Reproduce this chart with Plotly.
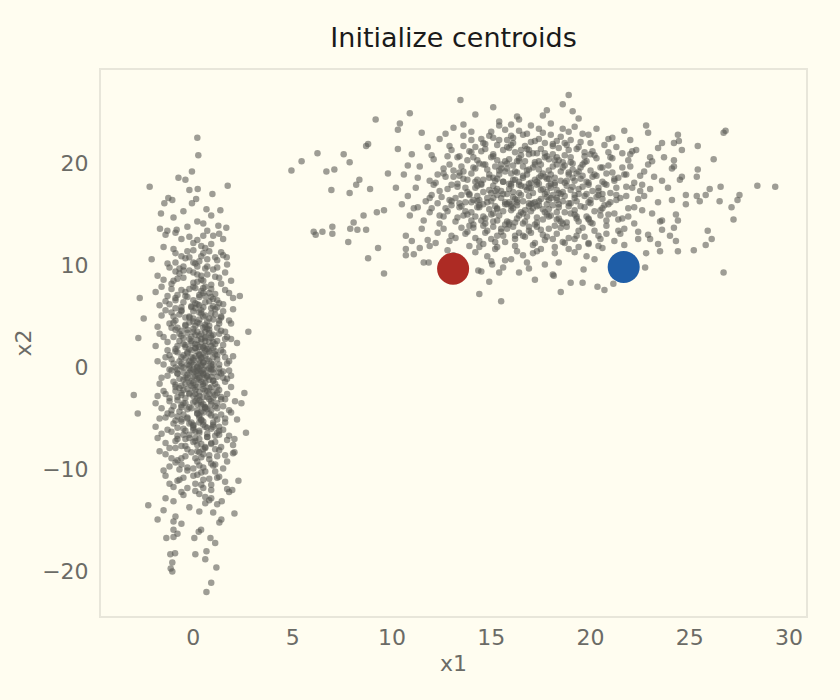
import plotly.graph_objects as go

# --- datos: nube izquierda (valores estimados del gráfico) ---
left_core = [
    (0.3,0.4),(-0.5,1.2),(0.9,0.1),(1.4,1.7),(-1.1,0.8),(0.1,1.9),(0.6,1.1),(-0.2,0.2),(1.8,0.6),(-0.8,1.5),
    (0.4,0.9),(1.1,1.3),(-1.5,0.3),(0.0,0.7),(0.7,1.8),(-0.3,1.4),(1.3,0.3),(0.2,1.6),(-0.9,0.0),(0.5,0.5),
    (2.0,1.1),(-0.1,1.0),(0.8,0.6),(-0.6,0.4),(1.0,1.9),(0.3,1.2),(-1.3,1.7),(0.6,0.2),
    (0.2,-0.3),(-0.7,-1.1),(1.0,-0.5),(0.5,-1.8),(-1.2,-0.2),(1.6,-1.4),(0.0,-0.9),(-0.4,-1.6),(0.8,-1.2),(1.3,-0.1),
    (-0.9,-1.9),(0.4,-0.6),(-0.1,-1.3),(1.9,-0.8),(0.6,-1.5),(-1.6,-1.0),(0.9,-0.2),(0.1,-1.7),(-0.5,-0.5),(1.2,-1.9),
    (0.3,-1.0),(-0.2,-0.1),(0.7,-0.8),(-1.0,-1.4),(1.5,-0.4),(0.0,-1.5),(0.5,-0.2),(-0.3,-0.7),
    (0.1,2.3),(-0.6,3.1),(1.2,2.6),(0.7,3.8),(-1.3,2.5),(0.4,3.3),(1.7,3.0),(-0.2,2.8),(0.9,2.1),(-0.9,3.7),
    (0.3,2.0),(1.4,3.6),(-0.4,2.2),(0.6,2.9),(2.2,2.4),(-1.7,3.3),(0.0,3.5),(1.0,3.2),(-0.7,2.6),(0.5,3.9),
    (1.5,2.2),(-0.1,3.0),(0.8,2.5),(-1.1,3.9),(0.2,2.7),
    (0.3,-2.4),(-0.8,-3.2),(1.1,-2.7),(0.6,-3.9),(-1.4,-2.6),(0.0,-3.4),(1.6,-3.1),(-0.3,-2.1),(0.9,-3.6),(-1.0,-3.8),
    (0.5,-2.9),(1.3,-2.2),(-0.5,-3.5),(0.2,-3.0),(2.1,-3.3),(-1.8,-2.8),(0.7,-2.3),(-0.2,-3.9),(1.0,-3.0),(-0.6,-2.5),
    (0.4,-3.7),(1.5,-3.8),(-1.2,-3.3),(0.1,-2.6),(0.8,-2.0),
    (0.2,4.4),(-0.7,5.2),(1.0,4.7),(0.5,5.9),(-1.2,4.3),(1.5,5.5),(-0.2,5.0),(0.8,4.1),(-0.9,5.8),(0.3,5.4),
    (1.8,4.6),(-1.6,5.1),(0.0,4.8),(1.2,5.9),(-0.4,4.2),(0.6,5.1),(2.0,5.7),(-0.6,5.6),(0.9,5.3),(-0.1,5.9),(1.3,4.3),
    (0.4,-4.3),(-0.6,-5.1),(1.1,-4.8),(0.0,-5.7),(-1.3,-4.5),(1.6,-5.4),(-0.3,-4.1),(0.7,-5.9),(-1.0,-5.5),(0.3,-4.9),
    (1.9,-4.4),(-1.7,-5.0),(0.5,-5.3),(1.3,-5.8),(-0.5,-4.6),(0.9,-4.2),(-0.1,-5.4),(2.2,-5.1),(-0.8,-5.9),(0.2,-4.5),(1.0,-5.6),
    (0.1,6.3),(-0.8,7.1),(1.2,6.6),(0.5,7.8),(-1.4,6.5),(0.8,7.3),(-0.3,6.9),(1.6,7.6),(0.3,6.1),(-1.1,7.7),
    (1.0,6.0),(-0.5,6.4),(2.0,6.8),(0.6,7.0),(-1.9,7.4),(0.0,7.9),
    (0.3,-6.4),(-0.9,-7.2),(1.1,-6.7),(0.6,-7.8),(-1.3,-6.1),(0.9,-7.4),(-0.2,-6.9),(1.7,-7.1),(0.2,-7.6),(-1.2,-7.9),
    (1.3,-6.2),(-0.5,-6.6),(2.0,-7.6),(0.7,-6.8),(-1.8,-6.9),(0.0,-7.3),
    (0.2,8.4),(-0.7,9.2),(1.3,8.8),(0.6,9.7),(-1.5,8.6),(0.9,8.1),(-0.2,9.5),(1.6,9.3),(-1.1,8.2),(0.4,9.0),(1.9,8.5),(-0.5,9.9),
    (0.3,-8.3),(-0.8,-9.1),(1.2,-8.7),(0.5,-9.8),(-1.4,-8.5),(0.9,-9.4),(-0.3,-8.0),(1.7,-9.2),(-1.2,-9.7),(0.1,-8.9),(2.0,-8.4),(-0.6,-9.5),
    (0.3,10.4),(-0.9,11.2),(1.1,10.8),(0.6,11.7),(-1.3,10.2),(0.0,11.5),(1.5,11.0),(-0.4,10.7),
    (0.4,-10.3),(-0.8,-11.1),(1.2,-10.8),(0.5,-11.8),(-1.4,-10.6),(0.1,-11.4),(1.6,-11.2),(-0.3,-10.1),
    (0.2,12.5),(-0.9,13.2),(1.0,12.9),(-0.3,13.8),(0.7,13.4),
    (0.3,-12.4),(-1.0,-13.1),(0.9,-12.8),(-0.2,-13.7),(0.6,-13.3),
]
left_dense = [
    (0.0,0.3),(0.5,1.4),(-0.4,0.9),(1.2,0.8),(0.2,0.0),(-0.9,1.6),(0.8,1.5),(0.4,0.2),(-0.2,1.8),(1.6,1.0),
    (-0.6,0.1),(0.1,1.1),(0.9,0.4),(-1.2,1.2),(0.6,1.7),(0.3,0.7),(-0.1,0.5),(1.0,1.0),(-0.7,0.6),(0.5,1.9),
    (0.1,-0.4),(0.6,-1.0),(-0.5,-1.2),(1.1,-1.6),(0.3,-0.1),(-0.8,-0.6),(0.9,-0.9),(-0.1,-1.8),(0.4,-1.4),(1.4,-0.6),
    (-1.1,-0.3),(0.2,-1.1),(0.7,-0.3),(-0.3,-1.0),(1.0,-1.3),(0.0,-0.2),(-0.6,-1.8),(0.5,-0.7),(1.7,-1.1),(-0.2,-0.5),
    (0.2,2.2),(-0.3,3.4),(0.9,2.9),(0.4,2.5),(-0.8,2.1),(1.3,3.3),(0.0,3.8),(0.6,3.5),(-0.5,2.9),(1.1,2.3),
    (0.3,3.1),(-1.0,3.0),(0.8,3.7),(-0.1,2.4),(1.6,2.8),(0.5,2.0),(-0.6,3.6),(0.1,3.2),
    (0.1,-2.2),(-0.4,-3.0),(0.8,-2.6),(0.4,-3.4),(-0.9,-2.3),(1.2,-3.5),(0.0,-2.8),(0.6,-3.9),(-0.6,-3.7),(1.0,-2.4),
    (0.3,-3.2),(-1.2,-3.0),(0.9,-3.3),(-0.2,-2.5),(1.4,-2.9),(0.5,-2.1),(-0.7,-2.0),(0.2,-3.6),
    (0.1,4.1),(-0.4,4.9),(0.7,4.5),(0.4,5.6),(-0.9,4.6),(1.1,5.2),(0.0,5.5),(0.6,4.2),(-0.6,5.9),(0.9,5.8),
    (0.3,4.7),(-1.1,5.4),(1.4,4.9),(-0.2,4.4),(0.5,5.0),
    (0.2,-4.2),(-0.3,-5.0),(0.8,-4.5),(0.5,-5.6),(-0.8,-4.8),(1.2,-5.1),(0.0,-5.9),(0.6,-4.0),(-0.6,-5.3),(1.0,-5.8),
    (0.3,-4.7),(-1.1,-4.2),(1.4,-4.6),(-0.2,-5.5),(0.4,-5.2),
    (0.2,6.2),(-0.4,7.0),(0.8,6.5),(0.4,7.5),(-0.9,6.8),(1.1,7.2),(0.0,6.6),(0.6,7.9),(-0.6,7.6),(1.3,6.3),(0.3,7.1),(-1.2,6.2),
    (0.1,-6.3),(-0.4,-7.0),(0.7,-6.5),(0.4,-7.5),(-0.8,-6.7),(1.1,-7.3),(0.0,-6.1),(0.6,-7.9),(-0.6,-7.7),(1.3,-6.6),(0.3,-7.0),(-1.1,-6.3),
    (0.0,8.3),(0.7,9.1),(-0.5,8.8),(1.0,9.6),(0.4,8.6),(-0.9,9.4),(0.2,9.9),(1.4,8.2),
    (0.2,-8.2),(0.8,-9.0),(-0.4,-8.7),(1.0,-9.6),(0.5,-8.5),(-0.9,-9.3),(0.0,-9.9),(1.3,-8.1),
    (0.1,10.2),(0.8,11.4),(-0.6,10.9),(0.4,11.9),(-1.0,11.6),(1.2,10.5),
    (0.2,-10.5),(0.9,-11.5),(-0.5,-10.8),(0.5,-11.0),(-1.0,-11.7),(1.1,-10.2),
    (0.0,12.2),(0.5,12.9),(-0.6,12.6),(1.3,13.1),
    (0.1,-12.1),(0.6,-12.7),(-0.5,-12.5),(1.2,-13.4),
]
left_center = [
    (-0.8,8.7),(0.5,8.5),(0.1,7.8),(-0.4,7.4),(0.9,7.7),(0.3,6.9),(-0.9,6.6),(0.6,6.4),(-0.1,6.0),(1.1,5.7),
    (-0.6,5.5),(0.4,5.3),(-0.2,4.9),(0.8,4.8),(0.0,4.5),(-1.0,4.4),(0.6,4.0),(1.2,3.9),(-0.3,3.7),(0.2,3.5),
    (-0.7,3.3),(0.9,3.1),(0.4,2.8),(-0.1,2.6),(1.0,2.5),(-0.5,2.3),(0.6,2.1),(0.1,1.9),(-0.9,1.8),(0.8,1.6),
    (-0.3,1.5),(0.3,1.3),(1.2,1.2),(-0.6,1.0),(0.0,0.9),(0.7,0.8),(-0.2,0.6),(0.5,0.5),(-1.0,0.4),(1.0,0.3),
    (0.2,0.1),(-0.5,0.0),(0.8,-0.1),(-0.1,-0.3),(0.4,-0.4),(1.3,-0.5),(-0.8,-0.6),(0.1,-0.8),(0.7,-0.9),(-0.4,-1.0),
    (0.3,-1.2),(1.0,-1.3),(-0.2,-1.5),(0.5,-1.6),(-0.9,-1.7),(0.9,-1.9),(0.0,-2.0),(-0.5,-2.2),(0.6,-2.3),(1.2,-2.5),
    (-0.2,-2.6),(0.3,-2.8),(-0.8,-2.9),(0.8,-3.1),(0.1,-3.3),(-0.4,-3.5),(0.5,-3.6),(1.1,-3.8),(-0.1,-4.0),(0.7,-4.1),
    (-0.7,-4.3),(0.2,-4.5),(0.9,-4.7),(-0.3,-4.9),(0.4,-5.1),(-0.9,-5.2),(1.0,-5.4),(0.0,-5.6),(0.6,-5.8),(-0.5,-6.0),
    (0.3,-6.2),(1.2,-6.4),(-0.2,-6.6),(0.7,-6.8),(-0.8,-7.0),(0.1,-7.2),(0.9,-7.5),(-0.4,-7.7),(0.5,-8.0),(-0.1,-8.3),
    (0.8,-8.6),(-0.6,-8.9),(0.2,-9.2),(1.1,-9.5),(-0.3,-9.8),(0.6,-10.2),(0.0,-10.6),(-0.7,-11.0),(0.4,-11.5),(0.9,-12.0),
    (0.2,9.1),(-0.5,9.5),(0.7,9.9),(0.0,10.3),(-0.2,10.8),(0.5,11.2),(1.0,-0.2),(-0.3,0.3),(0.4,1.0),(0.6,2.6),
    (-0.4,4.1),(0.1,5.8),(0.9,6.9),(-0.6,-3.9),(0.3,-5.4),(0.1,-6.9),(0.5,-0.6),(-0.1,1.7),(0.8,3.4),(0.2,-1.9),
]
left_spread = [
    (-1.5,11.8),(1.4,11.3),(-0.2,12.8),(0.9,12.1),(-1.2,9.8),(1.7,10.1),(-1.8,9.0),(1.1,8.9),(-0.9,10.3),(0.4,10.9),
    (-1.6,7.9),(1.8,7.3),(-1.3,7.0),(1.5,6.2),(-1.7,6.1),(1.4,5.0),(-1.4,5.6),(1.9,4.3),(-1.8,4.0),(1.6,3.5),
    (-1.5,3.0),(1.9,2.8),(-1.9,2.1),(1.5,1.5),(-1.4,1.0),(1.7,0.4),(-1.8,0.6),(1.8,-0.3),(-1.3,-0.8),(1.5,-1.0),
    (-1.7,-1.6),(1.9,-1.9),(-1.5,-2.3),(1.7,-2.6),(-1.9,-3.5),(1.4,-3.1),(-1.6,-4.0),(1.8,-4.2),(-1.4,-4.9),(1.6,-5.0),
    (-1.9,-5.8),(1.5,-6.1),(-1.6,-6.5),(1.8,-6.7),(-1.4,-7.4),(1.4,-7.8),(-1.7,-8.2),(1.6,-8.6),(-1.1,-8.9),(1.5,-9.9),
    (-1.5,-10.1),(1.3,-10.7),(-1.2,-11.4),(1.7,-11.9),(-0.6,-12.2),(0.8,-13.0),(-1.4,-12.8),(0.3,-14.1),(-0.9,-14.6),(1.0,-14.2),
    (0.2,14.3),(-1.0,14.7),(0.9,14.9),(-0.5,15.3),(0.5,14.1),(-1.4,13.0),(1.5,12.6),(-0.3,11.4),(0.7,10.6),(-0.7,9.7),
    (0.0,9.3),(1.2,9.8),(-1.0,8.5),(0.5,7.3),(-0.2,7.7),(1.0,6.7),(-1.0,5.0),(0.3,4.3),(1.3,4.6),(-0.8,3.9),
    (0.6,3.0),(-0.4,2.0),(1.1,1.6),(-0.8,-0.2),(0.2,-0.6),(1.2,-0.9),(-0.6,-2.7),(0.7,-2.9),(-1.1,-4.6),(0.5,-4.4),
    (1.2,-4.0),(-0.4,-6.2),(0.9,-6.0),(-0.9,-7.9),(0.4,-8.8),(1.1,-8.0),(-0.7,-10.0),(0.3,-9.6),(0.8,-10.9),(-0.3,-11.8),
]
left_outliers = [
    (0.2,22.5),(0.25,20.8),(-2.2,17.7),(1.73,17.8),(-0.07,19.2),(-0.75,18.6),(-0.4,18.4),(-0.2,17.4),(0.22,17.5),
    (-1.26,16.6),(-1.06,16.4),(-1.46,16.1),(0.96,17.0),(0.14,16.5),(-1.63,15.1),(-0.07,16.1),(1.36,15.4),(0.66,15.5),
    (-1.68,13.6),(-1.31,13.4),(-0.84,13.5),(1.66,13.7),(1.26,13.9),(2.77,3.5),(-2.1,10.6),(-2.77,2.9),(-2.5,4.8),
    (-2.7,6.8),(-3.0,-2.7),(-2.8,-4.5),(2.65,-6.4),(-2.27,-13.5),(-1.8,-14.9),(2.07,-14.3),(0.66,-22.0),(0.9,-21.1),
    (1.16,-19.6),(-1.16,-18.3),(-0.92,-18.2),(-1.06,-19.1),(-1.14,-19.7),(-1.06,-20.0),(0.1,-18.3),(0.66,-18.0),
    (0.6,-18.8),(-1.36,-16.7),(-1.0,-16.6),(-0.8,-16.3),(0.05,-16.7),(0.86,-16.7),(1.1,-17.2),(0.27,-16.1),
    (0.39,-15.9),(-1.0,-15.9),(-0.6,-15.3),(-1.0,-15.1),(1.31,-15.2),(1.41,-14.9),(2.27,-11.1),(1.8,-12.2),
    (1.96,-12.0),(1.43,-13.1),(-1.5,-14.0),(2.07,-8.3),(2.57,-2.5),(2.42,-3.5),(2.07,-7.0),(2.34,7.0),(1.68,10.8),
]

# --- datos: nube derecha ---
right_core = [
    (16.2,16.5),(13.8,17.2),(18.9,16.1),(15.1,17.8),(20.4,16.9),(11.7,16.3),(17.5,17.4),(14.6,16.0),(19.6,17.7),(16.9,16.8),
    (12.8,17.5),(21.3,16.4),(15.7,16.2),(18.2,17.9),(13.2,16.6),(17.1,16.1),(22.5,17.3),(14.2,17.6),(19.2,16.6),(16.4,17.1),
    (10.8,16.8),(20.8,17.9),(15.3,16.9),(18.6,16.3),(12.3,16.1),(17.8,16.7),(14.9,17.4),(23.4,16.2),(16.7,17.7),(13.5,16.9),
    (19.9,16.2),(15.9,17.5),(21.8,16.8),(17.3,17.9),(11.2,17.6),(18.4,17.1),(14.4,16.4),(20.1,17.3),(16.0,16.0),(13.0,17.9),
    (19.4,17.0),(15.5,16.6),(17.9,16.4),(22.1,17.6),(14.0,16.2),(18.0,17.6),(16.6,16.3),(12.0,16.9),(20.6,16.5),(15.0,17.1),
    (16.1,18.4),(13.6,19.2),(18.7,18.1),(15.2,19.7),(20.3,18.8),(11.9,18.3),(17.4,19.4),(14.5,18.0),(19.5,19.6),(16.8,18.9),
    (12.6,19.5),(21.2,18.5),(15.6,18.2),(18.3,19.9),(13.1,18.7),(17.0,18.1),(22.7,19.2),(14.1,19.6),(19.1,18.6),(16.3,19.1),
    (10.6,18.9),(20.9,19.8),(15.4,18.9),(18.5,18.3),(12.2,18.1),(17.7,18.7),(14.8,19.4),(23.6,18.3),(16.6,19.7),(13.4,18.8),
    (19.8,18.2),(15.8,19.5),(21.7,18.9),(17.2,19.9),(11.4,19.7),(18.9,19.1),(14.3,18.4),(20.0,19.3),(16.0,18.0),(12.9,19.9),
    (19.3,19.0),(15.1,18.6),(17.9,18.5),(22.2,18.1),(24.1,19.5),(9.8,19.0),
    (16.3,14.6),(13.7,15.3),(18.8,14.2),(15.2,15.8),(20.5,14.9),(11.6,14.4),(17.6,15.5),(14.7,14.1),(19.7,15.7),(16.8,14.8),
    (12.7,15.6),(21.4,14.5),(15.8,14.3),(18.1,15.9),(13.3,14.7),(17.2,14.0),(22.6,15.4),(14.3,15.7),(19.3,14.6),(16.5,15.2),
    (10.9,14.9),(20.7,15.9),(15.4,14.9),(18.5,14.3),(12.4,14.1),(17.9,14.8),(14.9,15.5),(23.5,14.3),(16.9,15.8),(13.6,14.9),
    (20.0,14.2),(16.1,15.6),(21.9,14.8),(17.4,15.9),(11.3,15.7),(18.3,15.2),(14.5,14.4),(20.2,15.3),(15.9,14.0),(19.0,15.1),
    (24.3,15.0),(9.6,15.4),(13.0,15.9),(17.0,15.3),
    (16.4,20.5),(13.9,21.2),(18.6,20.1),(15.3,21.8),(20.2,20.8),(12.1,20.4),(17.5,21.4),(14.4,20.0),(19.4,21.6),(16.9,20.9),
    (12.9,21.7),(21.1,20.5),(15.7,20.2),(18.1,21.9),(13.4,20.7),(17.2,20.1),(22.3,21.3),(14.2,21.6),(19.0,20.6),(16.2,21.1),
    (11.0,20.9),(20.7,21.8),(15.1,20.9),(18.4,20.3),(17.8,20.7),(14.7,21.4),(23.1,20.2),(16.7,21.7),(19.8,20.2),(15.9,21.5),
    (21.6,21.0),(10.3,21.4),(17.3,21.0),(18.9,21.3),
    (16.2,12.6),(13.8,13.3),(18.7,12.2),(15.1,13.8),(20.4,12.9),(11.8,12.5),(17.5,13.5),(14.6,12.1),(19.6,13.7),(16.7,12.8),
    (12.6,13.6),(21.2,12.4),(15.7,12.3),(18.2,13.9),(13.2,12.7),(17.1,12.0),(22.4,13.3),(14.1,13.7),(19.2,12.6),(16.4,13.2),
    (10.7,12.9),(20.8,13.9),(15.3,12.9),(18.6,12.3),(17.8,12.8),(14.8,13.4),(23.0,12.6),(16.9,13.8),(19.9,12.2),(15.8,13.6),
    (12.2,12.2),(21.5,13.1),
    (16.1,22.5),(14.0,23.1),(18.3,22.2),(15.4,23.7),(19.9,22.8),(12.4,22.4),(17.4,23.4),(14.6,22.0),(19.2,23.6),(16.8,22.9),
    (13.1,23.5),(20.9,22.4),(15.8,22.3),(18.0,23.9),(17.0,22.1),(21.7,23.2),(11.5,23.0),(16.4,24.3),
    (16.0,10.6),(14.2,11.3),(18.4,10.3),(15.3,11.8),(19.8,10.9),(12.8,11.5),(17.3,11.4),(13.6,10.2),(20.6,11.7),(16.6,11.0),
    (11.9,11.9),(21.9,10.8),(15.0,10.4),(18.9,11.6),(17.7,10.1),(22.8,11.2),
    (16.3,24.6),(17.8,25.2),(15.1,25.5),(19.4,24.4),(14.2,24.8),(18.6,25.8),
    (16.4,9.3),(17.2,8.6),(15.6,9.8),(18.1,9.1),(14.9,8.4),(16.9,9.7),
]
right_dense = [
    (16.5,16.9),(14.1,16.4),(18.3,16.6),(15.5,17.3),(20.0,16.1),(17.7,17.0),(13.3,17.7),(19.0,17.4),(16.0,17.8),(21.0,17.1),
    (14.8,16.6),(17.2,16.2),(18.8,17.8),(15.0,16.3),(12.5,16.7),(16.8,17.4),(19.7,16.8),(14.5,17.9),(17.5,16.5),(20.4,17.6),
    (15.8,16.0),(18.1,16.9),(13.9,17.0),(16.3,16.2),(21.5,16.6),(17.0,17.6),(19.3,16.3),(15.3,17.5),(18.6,17.2),(14.3,16.8),
    (16.9,16.1),(20.6,17.0),(13.7,16.2),(17.9,17.8),(15.6,17.0),(19.9,17.9),(12.9,16.4),(18.4,16.0),
    (16.6,18.8),(14.2,18.2),(18.2,18.6),(15.4,19.3),(19.9,18.1),(17.6,19.0),(13.5,19.7),(19.1,19.4),(16.1,19.8),(21.1,19.1),
    (14.9,18.6),(17.3,18.2),(18.7,19.8),(15.2,18.3),(12.7,18.7),(16.9,19.4),(19.6,18.8),(14.6,19.9),(17.8,18.5),(20.5,19.6),
    (15.9,18.0),(18.0,18.9),(14.0,19.0),(16.4,18.2),(21.4,18.6),(17.1,19.6),(19.2,18.3),(15.5,19.5),(18.5,19.2),(13.8,18.4),
    (20.2,18.9),(16.2,19.2),(22.0,19.7),(17.4,18.0),
    (16.4,14.9),(14.0,14.4),(18.4,14.6),(15.6,15.3),(20.1,14.1),(17.8,15.0),(13.4,15.7),(19.2,15.4),(16.0,15.8),(21.2,15.1),
    (14.7,14.6),(17.3,14.2),(18.9,15.8),(15.1,14.3),(12.6,14.8),(16.7,15.4),(19.8,14.8),(14.4,15.9),(17.6,14.5),(20.6,15.6),
    (15.7,14.0),(18.0,14.9),(13.8,15.0),(16.2,14.2),(21.6,14.6),(17.1,15.6),(19.4,14.3),(15.3,15.5),(18.7,15.2),(14.2,14.8),
    (22.2,15.7),(11.9,15.2),
    (16.5,20.8),(14.3,20.3),(18.3,20.6),(15.6,21.3),(19.7,20.1),(17.7,21.0),(13.6,21.7),(19.3,21.4),(16.0,21.8),(20.9,21.1),
    (15.0,20.6),(17.4,20.2),(18.8,21.8),(15.3,20.3),(12.8,20.7),(16.8,21.4),(20.0,20.9),(14.7,21.9),(17.9,20.4),(21.3,21.6),
    (15.8,20.0),(18.1,20.9),(14.0,21.1),(16.3,20.2),
    (16.6,12.9),(14.4,12.4),(18.1,12.6),(15.5,13.3),(19.9,12.1),(17.6,13.0),(13.5,13.7),(19.4,13.4),(16.1,13.8),(20.8,13.1),
    (15.0,12.6),(17.2,12.2),(18.8,13.8),(15.2,12.3),(13.0,12.9),(16.9,13.4),(19.7,12.8),(14.6,13.9),(17.7,12.5),(21.7,13.6),
    (12.3,13.2),(18.3,13.1),
    (16.6,22.8),(14.5,22.4),(18.5,22.6),(15.7,23.3),(19.5,22.1),(17.6,23.0),(13.6,22.7),(20.3,23.4),(16.0,23.8),(17.2,22.2),
    (18.9,23.1),(15.1,22.5),
    (16.3,11.4),(14.8,10.9),(18.2,11.2),(15.7,10.5),(19.4,11.8),(17.5,11.6),(13.9,11.9),(20.2,10.6),(16.8,10.3),(13.1,11.0),
]
right_center = [
    (13.2,14.3),(14.6,14.8),(15.9,14.2),(17.3,14.7),(18.6,14.1),(19.9,14.6),(20.8,14.4),(14.0,15.2),(15.3,15.6),(16.6,15.1),
    (17.9,15.5),(19.2,15.0),(20.5,15.4),(13.5,15.8),(14.8,16.2),(16.1,16.7),(17.4,16.3),(18.7,16.8),(20.0,16.4),(21.3,16.9),
    (13.9,16.9),(15.2,17.3),(16.5,17.8),(17.8,17.2),(19.1,17.7),(20.4,17.3),(14.3,17.8),(15.6,18.2),(16.9,17.6),(18.2,18.1),
    (19.5,18.5),(20.7,18.0),(13.6,18.5),(14.9,18.9),(16.2,18.4),(17.5,18.8),(18.8,18.3),(20.1,18.7),(14.2,19.5),(15.5,19.9),
    (16.8,19.3),(18.1,19.7),(19.4,19.2),(20.6,19.6),(13.8,20.3),(15.1,20.7),(16.4,20.2),(17.7,20.6),(19.0,20.1),(20.3,20.5),
    (14.5,21.2),(15.8,21.6),(17.1,21.0),(18.4,21.5),(19.7,21.1),(16.1,22.0),(17.4,22.4),(18.7,22.0),(15.4,22.3),(13.4,19.1),
    (16.0,15.4),(17.0,16.0),(18.0,16.6),(15.0,15.0),(19.0,16.1),(16.3,16.4),(17.6,17.5),(18.5,17.0),(15.8,17.0),(17.2,18.4),
    (18.9,18.9),(16.0,19.0),(17.9,19.3),(14.6,17.2),(19.8,17.0),(21.0,16.2),(21.8,17.7),(22.4,16.5),(12.4,17.3),(12.0,15.6),
    (13.0,16.3),(14.4,15.7),(15.7,16.0),(17.7,15.2),(19.5,15.8),(20.9,15.0),(16.7,14.3),(18.3,14.5),(14.1,14.0),(15.5,13.6),
    (17.0,13.2),(18.5,13.7),(20.2,13.4),(16.2,12.9),(13.7,13.1),(19.3,12.9),(16.9,18.0),(18.3,17.4),(15.3,18.5),(17.5,19.9),
    (19.6,19.9),(21.2,18.3),(22.5,18.8),(23.0,17.5),(12.6,19.0),(13.3,20.6),(21.9,20.3),(14.7,13.2),(16.5,21.3),(18.2,20.3),
    (17.1,17.1),(16.4,17.9),(15.9,16.2),(18.0,18.0),(17.3,15.8),(16.6,18.6),(19.2,16.9),(15.1,16.6),(17.8,16.0),(18.6,19.6),
]
right_spread = [
    (10.2,17.6),(10.8,19.8),(11.1,15.6),(11.5,13.6),(11.8,21.6),(12.1,17.9),(12.4,14.9),(12.7,22.9),(12.9,12.4),(13.1,19.3),
    (13.4,16.1),(13.6,23.8),(13.9,13.9),(14.1,20.6),(14.4,11.8),(14.6,18.4),(14.9,22.7),(15.1,15.1),(15.4,24.1),(15.6,12.9),
    (15.9,20.4),(16.1,17.2),(16.4,23.2),(16.6,14.1),(16.9,21.3),(17.1,11.2),(17.4,18.6),(17.6,24.7),(17.9,13.6),(18.1,21.7),
    (18.4,15.7),(18.6,23.4),(18.9,12.7),(19.1,20.0),(19.4,17.5),(19.6,22.9),(19.9,14.5),(20.1,21.2),(20.4,11.9),(20.6,18.2),
    (20.9,16.0),(21.1,22.5),(21.4,13.4),(21.6,19.6),(21.9,15.6),(22.1,21.2),(22.4,12.6),(22.6,17.9),(22.9,19.9),(23.1,15.1),
    (23.4,21.5),(23.6,13.5),(23.9,17.6),(24.1,16.4),(23.2,18.7),(22.2,14.1),(21.3,17.6),(20.3,16.7),(19.3,14.8),(18.3,16.4),
    (17.3,13.8),(16.3,15.9),(15.3,14.4),(14.3,16.3),(13.3,18.0),(12.3,18.9),(11.3,18.6),(10.5,16.0),(11.0,12.4),(12.0,20.8),
    (13.0,21.3),(14.0,22.3),(15.0,23.1),(16.0,22.7),(17.0,23.7),(18.0,22.8),(19.0,22.3),(20.0,22.0),(21.0,20.6),(22.0,20.9),
    (23.0,20.6),(22.7,16.8),(21.8,18.9),(20.8,19.0),(19.7,20.7),(18.7,20.8),(17.7,22.0),(16.7,20.2),(15.7,19.2),(14.7,19.9),
    (13.7,17.6),(12.8,15.3),(11.9,16.6),(14.2,12.7),(15.2,11.6),(16.2,11.9),(18.2,11.8),(19.2,11.3),(20.5,12.6),(21.7,12.0),
]
right_outliers = [
    (4.94,19.3),(5.45,20.2),(6.25,21.0),(6.7,19.2),(7.1,19.4),(7.57,20.9),(7.87,20.1),(6.95,17.4),(6.06,13.3),(6.16,13.0),
    (6.5,13.3),(7.0,13.8),(7.0,13.1),(7.8,12.3),(7.87,17.1),(8.8,10.7),(9.3,11.7),(9.6,9.2),(9.18,24.3),(8.7,21.7),
    (8.8,21.9),(8.2,17.9),(8.36,18.4),(8.57,14.9),(8.07,14.2),(7.9,13.6),(8.26,13.5),(8.7,13.5),(9.24,15.2),(8.9,17.5),
    (13.45,26.2),(10.9,24.9),(10.4,23.9),(10.3,23.3),(14.4,7.2),(15.5,6.5),(11.6,10.3),(11.85,10.3),(14.35,9.5),(14.5,9.4),
    (15.4,9.3),(15.05,10.1),(10.7,11.0),(10.7,11.6),(11.1,11.1),(11.4,11.7),(18.9,26.7),(19.1,25.1),(26.7,9.3),(29.3,17.7),
    (28.4,17.8),(26.7,23.0),(26.8,23.2),(26.2,20.4),(27.2,14.5),(27.1,15.7),(27.4,16.4),(27.5,16.9),(26.5,16.3),(26.55,17.7),
    (25.9,13.4),(26.1,12.6),(25.8,12.0),(25.2,11.5),(25.4,21.7),(25.4,19.4),(25.35,18.7),(26.0,17.5),(25.8,16.9),(25.35,16.8),
    (25.5,16.3),(24.4,11.4),(22.75,9.8),(24.6,21.3),(24.4,22.8),(24.45,22.2),(24.2,22.0),(22.9,23.0),(22.8,23.7),(22.0,22.3),
    (21.15,8.2),(20.7,7.6),(20.35,7.9),(19.6,8.3),(19.0,8.3),(18.5,7.4),(18.15,9.0),(19.65,9.6),(24.2,13.7),(24.0,12.9),
    (24.3,12.4),(23.4,12.1),(23.5,11.4),(22.9,13.0),(23.6,14.4),(24.4,14.4),(23.7,20.6),(24.2,20.3),(24.6,18.7),(24.5,18.4),
    (24.8,16.9),(24.8,16.0),(24.2,19.7),(23.6,22.0),
]

# --- centroides iniciales ---
centroid_x = [13.08, 21.67]
centroid_y = [9.68, 9.85]
centroid_colors = ["#ad2b24", "#1f5ea7"]

x_ticks = [0, 5, 10, 15, 20, 25, 30]
y_ticks = [-20, -10, 0, 10, 20]

bg = "#fffdf0"
gris = "#6b6b66"

pts = (left_core + left_dense + left_center + left_spread + left_outliers
       + right_core + right_dense + right_center + right_spread + right_outliers)
px_, py_ = zip(*pts)

fig = go.Figure()
fig.add_trace(go.Scatter(
    x=px_, y=py_, mode="markers",
    marker=dict(size=6.5, color="#585853", opacity=0.58, line=dict(width=0)),
    hoverinfo="skip", showlegend=False,
))
fig.add_trace(go.Scatter(
    x=centroid_x, y=centroid_y, mode="markers",
    marker=dict(size=32, color=centroid_colors, line=dict(width=0)),
    showlegend=False,
))

eje = dict(
    showgrid=False, zeroline=False,
    showline=True, mirror=True, linecolor="#e8e6da", linewidth=2,
    ticks="", tickfont=dict(size=22, color=gris),
)
fig.update_xaxes(**eje, range=[-4.65, 30.85], tickvals=x_ticks, ticklabelstandoff=1,
                 title=dict(text="x1", font=dict(size=22, color=gris), standoff=6))
fig.update_yaxes(**eje, range=[-24.35, 29.15], tickvals=y_ticks, ticklabelstandoff=6,
                 title=dict(text="x2", font=dict(size=22, color=gris), standoff=4))

fig.update_layout(
    width=840, height=700,
    margin=dict(l=101, r=34, t=70, b=84),
    paper_bgcolor=bg, plot_bgcolor=bg,
    font=dict(family="DejaVu Sans"),
    title=dict(text="Initialize centroids", x=0.54, xanchor="center",
               y=0.946, yanchor="middle", font=dict(size=27, color="#1a1a1a")),
)

# sin margen del body para que la figura ocupe toda la ventana
fig.write_html("out.html", config={"displayModeBar": False},
               post_script="document.body.style.margin='0';"
               "document.body.style.background='#fffdf0';")
